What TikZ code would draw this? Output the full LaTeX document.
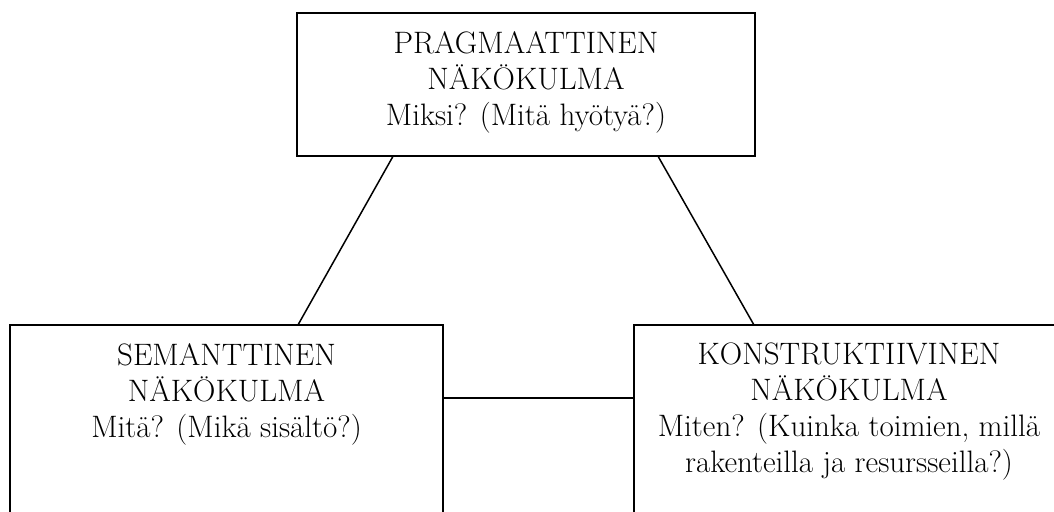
\documentclass[tikz,border=0pt]{standalone}
\usetikzlibrary{calc}
\begin{document}
\begin{tikzpicture}[x=1pt,y=1pt,
  box/.style={draw, line width=1.6pt, inner sep=0pt, outer sep=0pt},
  lbl/.style={align=center, inner sep=0pt, outer sep=0pt,
    font=\fontsize{31}{36}\selectfont},
  link/.style={line width=1.5pt}]
\clip (0,0) rectangle (1054,-511);
\fill[white] (0,0) rectangle (1054,-511);

% the three viewpoint boxes
\node[box, minimum width=458pt, minimum height=143pt, anchor=north west] (prag) at (297,-13) {};
\node[box, minimum width=433pt, minimum height=260pt, anchor=north west] (sem) at (10,-325) {};
\node[box, minimum width=430pt, minimum height=260pt, anchor=north west] (kon) at (634,-325) {};

% their texts
\node[lbl, anchor=north] (pragtxt) at ($(prag.north)+(0,-19)$)
  {PRAGMAATTINEN\\NÄKÖKULMA\\Miksi? (Mitä hyötyä?)};
\node[lbl, anchor=north] (semtxt) at ($(sem.north)+(0,-19)$)
  {SEMANTTINEN\\NÄKÖKULMA\\Mitä? (Mikä sisältö?)};
\node[lbl, anchor=north] (kontxt) at ($(kon.north)+(0,-18)$)
  {KONSTRUKTIIVINEN\\NÄKÖKULMA\\Miten? (Kuinka toimien, millä\\rakenteilla ja resursseilla?)};

% connectors
\coordinate (pl) at ($(prag.south west)!0.21!(prag.south east)$);
\coordinate (pr) at ($(prag.south west)!0.788!(prag.south east)$);
\coordinate (st) at ($(sem.north west)!0.665!(sem.north east)$);
\coordinate (kt) at ($(kon.north west)!0.279!(kon.north east)$);
\coordinate (se) at ($(sem.north east)+(0,-73)$);
\draw[link] (pl) -- (st);
\draw[link] (pr) -- (kt);
\draw[link] (se) -- (kon.west |- se);
\end{tikzpicture}
\end{document}
